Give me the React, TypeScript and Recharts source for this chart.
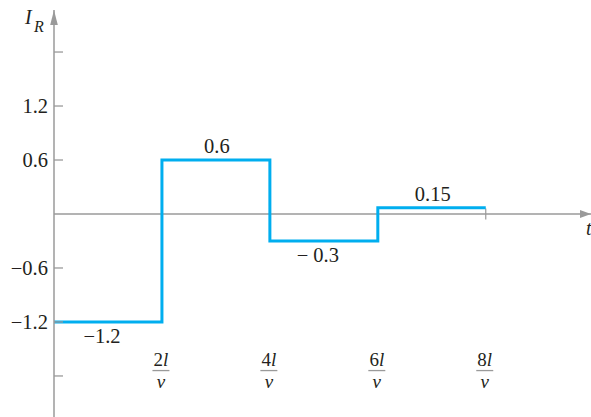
import React from 'react';
import { LineChart, Line, XAxis, YAxis, ReferenceLine, ReferenceDot } from 'recharts';

// time in units of l/v, current I_R at each step start
// (the last step is drawn smaller than 0.15 in the original, not to scale)
const stepTimes = [0, 2, 4, 6, 8];
const stepCurrents = [-1.2, 0.6, -0.3, 0.07, 0.07];

// labels written over / under each flat segment
const segmentMids = [1, 3, 5, 7];
const segmentLabels = ['\u22121.2', '0.6', '\u2212 0.3', '0.15'];

const yTicks = [-1.8, -1.2, -0.6, 0.6, 1.2, 1.8];
const yTickLabels: Record<string, string> = {
  '-1.8': '',
  '-1.2': '\u22121.2',
  '-0.6': '\u22120.6',
  '0.6': '0.6',
  '1.2': '1.2',
  '1.8': '',
};
const xTicks = [2, 4, 6, 8];
const xTickNumerators = ['2', '4', '6', '8'];

const X_MAX = 9.95;
const Y_MIN = -2.256;
const Y_MAX = 2.267;
const X_LABEL_ROW = -1.74; // fraction bars sit at this height

const FONT = '"Liberation Serif", "Times New Roman", serif';
const INK = '#231f20';
const AXIS = '#9a9a9a';
const BLUE = '#00aeef';

const data = stepTimes.map((t, i) => ({ t, i: stepCurrents[i] }));

// y tick: small mark to the right of the axis + label on the left
// eslint-disable-next-line @typescript-eslint/no-explicit-any
const YTick = ({ x, y, payload }: any) => {
  const label = yTickLabels[String(payload.value)] ?? '';
  return (
    <g>
      <line x1={x + 6} x2={x + 15} y1={y} y2={y} stroke={AXIS} strokeWidth={1.3} />
      <text x={x} y={y} dy={7} textAnchor="end" fontFamily={FONT} fontSize={20.5} fill={INK}>
        {label}
      </text>
    </g>
  );
};

// x tick label: fraction  Nl / v
const fraction = (num: string) =>
  // eslint-disable-next-line @typescript-eslint/no-explicit-any
  ({ cx, cy }: any) => {
    const x = cx - 1;
    return (
      <g>
        <text x={x} y={cy - 5} textAnchor="middle" fontFamily={FONT} fontSize={19} fill={INK}>
          {num}
          <tspan fontStyle="italic">l</tspan>
        </text>
        <line x1={x - 8.5} x2={x + 8.5} y1={cy} y2={cy} stroke={AXIS} strokeWidth={1.3} />
        <text x={x} y={cy + 17} textAnchor="middle" fontFamily={FONT} fontSize={19} fontStyle="italic" fill={INK}>
          v
        </text>
      </g>
    );
  };

// eslint-disable-next-line @typescript-eslint/no-explicit-any
const segmentLabel = (text: string) => (props: any) => {
  const { viewBox } = props;
  const cx = viewBox.x + viewBox.width / 2;
  const cy = viewBox.y + viewBox.height / 2;
  const below = text.startsWith('\u2212');
  return (
    <text
      x={cx + (below ? -6 : 1)}
      y={cy + (below ? 21 : -7)}
      textAnchor="middle"
      fontFamily={FONT}
      fontSize={20.5}
      fill={INK}
    >
      {text}
    </text>
  );
};

// arrow heads drawn at the axis ends
// eslint-disable-next-line @typescript-eslint/no-explicit-any
const UpArrow = ({ cx, cy }: any) => (
  <g>
    <polygon points={`${cx},${cy} ${cx - 3.8},${cy + 15} ${cx + 3.8},${cy + 15}`} fill={AXIS} />
    <text x={cx - 29} y={cy + 14} fontFamily={FONT} fontSize={20} fontStyle="italic" fill={INK}>
      I
    </text>
    <text x={cx - 20} y={cy + 22} fontFamily={FONT} fontSize={16} fontStyle="italic" fill={INK}>
      R
    </text>
  </g>
);

// eslint-disable-next-line @typescript-eslint/no-explicit-any
const RightArrow = ({ cx, cy }: any) => (
  <g>
    <polygon points={`${cx},${cy} ${cx - 11},${cy - 4} ${cx - 11},${cy + 4}`} fill={AXIS} />
    <text x={cx - 5} y={cy + 21} fontFamily={FONT} fontSize={20} fontStyle="italic" fill={INK}>
      t
    </text>
  </g>
);

export default function App() {
  return (
    <div style={{ position: 'absolute', left: 0, top: 0, background: '#fff' }}>
      <LineChart width={591} height={417} data={data} margin={{ top: 10, right: 0, bottom: 0, left: 0 }}>
        <XAxis type="number" dataKey="t" domain={[0, X_MAX]} allowDataOverflow hide />
        <YAxis
          type="number"
          domain={[Y_MIN, Y_MAX]}
          allowDataOverflow
          ticks={yTicks}
          interval={0}
          width={54}
          axisLine={{ stroke: AXIS, strokeWidth: 1.5 }}
          tickLine={false}
          tickSize={0}
          tickMargin={6}
          tick={<YTick />}
        />
        <ReferenceLine y={0} stroke={AXIS} strokeWidth={1.5} />
        {xTicks.map((t) => (
          <ReferenceLine
            key={t}
            segment={[
              { x: t, y: -0.06 },
              { x: t, y: 0.06 },
            ]}
            stroke={AXIS}
            strokeWidth={1.2}
          />
        ))}
        <Line
          type="stepAfter"
          dataKey="i"
          stroke={BLUE}
          strokeWidth={3}
          dot={false}
          isAnimationActive={false}
        />
        {segmentMids.map((m, k) => (
          <ReferenceDot
            key={m}
            x={m}
            y={stepCurrents[k]}
            r={0}
            stroke="none"
            fill="none"
            label={{ content: segmentLabel(segmentLabels[k]) }}
          />
        ))}
        {xTicks.map((t, k) => (
          <ReferenceDot key={'xl' + t} x={t} y={X_LABEL_ROW} r={0} shape={fraction(xTickNumerators[k])} />
        ))}
        <ReferenceDot x={0} y={Y_MAX} r={0} ifOverflow="visible" shape={<UpArrow />} />
        <ReferenceDot x={X_MAX} y={0} r={0} ifOverflow="visible" shape={<RightArrow />} />
      </LineChart>
    </div>
  );
}
